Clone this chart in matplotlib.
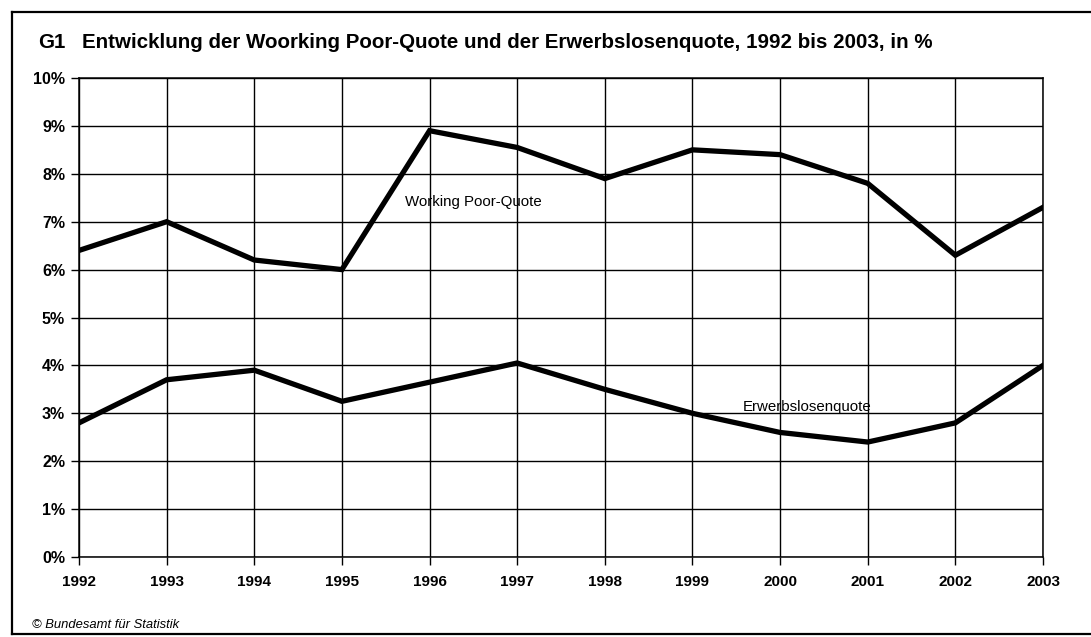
import matplotlib
matplotlib.use("Agg")
import matplotlib.pyplot as plt
from matplotlib.lines import Line2D

years = [1992, 1993, 1994, 1995, 1996, 1997, 1998, 1999, 2000, 2001, 2002, 2003]
working_poor = [6.4, 7.0, 6.2, 6.0, 8.9, 8.55, 7.9, 8.5, 8.4, 7.8, 6.3, 7.3]
erwerbslose = [2.8, 3.7, 3.9, 3.25, 3.65, 4.05, 3.5, 3.0, 2.6, 2.4, 2.8, 4.0]
y_ticks = list(range(0, 11))
y_labels = [f"{v}%" for v in y_ticks]

title_id = "G1"
title = "Entwicklung der Woorking Poor-Quote und der Erwerbslosenquote, 1992 bis 2003, in %"
footer = "© Bundesamt für Statistik"
label_wp = "Working Poor-Quote"
label_el = "Erwerbslosenquote"

plt.rcParams['font.family'] = ['Liberation Sans', 'DejaVu Sans']

W, H = 1091, 637
fig = plt.figure(figsize=(W / 100, H / 100), dpi=100)
ax = fig.add_axes([79 / W, (H - 557) / H, (1043 - 79) / W, (557 - 78) / H])

ax.plot(years, working_poor, color='black', lw=3.8, solid_joinstyle='miter', zorder=3)
ax.plot(years, erwerbslose, color='black', lw=3.8, solid_joinstyle='miter', zorder=3)

ax.set_xlim(years[0], years[-1])
ax.set_ylim(0, 10)
ax.set_xticks(years)
ax.set_xticklabels([str(y) for y in years], fontsize=11, fontweight='bold')
ax.set_yticks(y_ticks)
ax.set_yticklabels(y_labels, fontsize=11.5, fontweight='bold')
ax.grid(True, color='black', lw=1.0)
ax.tick_params(axis='both', direction='out', length=6, width=1.0, color='black', pad=4)
ax.tick_params(axis='x', pad=7)
for s in ax.spines.values():
    s.set_linewidth(1.1)

ax.text(1995.72, 7.41, label_wp, fontsize=10.8, va='center', ha='left')
ax.text(1999.57, 3.13, label_el, fontsize=10.8, va='center', ha='left')

fig.text(38 / W, 1 - 43 / H, title_id, fontsize=14.8, fontweight='bold', va='center', ha='left')
fig.text(82 / W, 1 - 43 / H, title, fontsize=14.8, fontweight='bold', va='center', ha='left')
fig.text(32 / W, 1 - 625 / H, footer, fontsize=9.4, style='italic', va='center', ha='left')

# outer frame
for (x0, y0, x1, y1) in [(12, 12, 1100, 12), (12, 12, 12, 634), (12, 634, 1100, 634)]:
    fig.add_artist(Line2D([x0 / W, x1 / W], [1 - y0 / H, 1 - y1 / H],
                          transform=fig.transFigure, color='black', lw=1.6))

fig.savefig("out.png", dpi=100)
